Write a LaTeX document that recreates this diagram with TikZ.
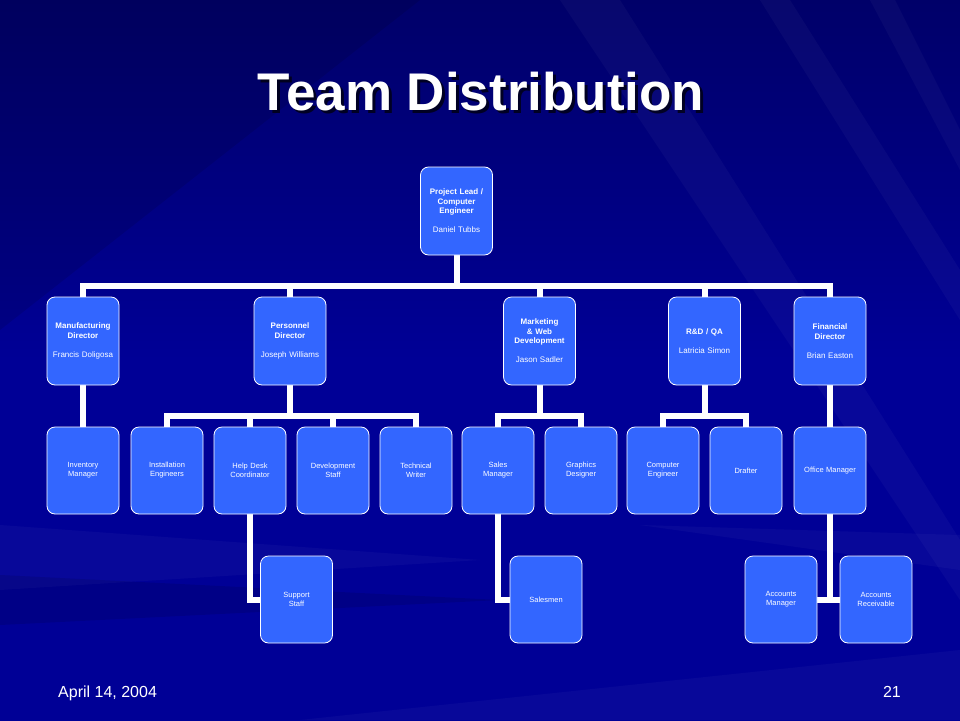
\documentclass[tikz,border=0pt]{standalone}
\usepackage{fontspec}
\setmainfont{Liberation Sans}
\pgfdeclarelayer{bg}
\pgfdeclarelayer{lines}
\pgfsetlayers{bg,lines,main}
\definecolor{boxblue}{RGB}{51,102,255}
\definecolor{bgdark}{RGB}{0,0,105}
\definecolor{bgmid}{RGB}{0,0,150}
\definecolor{bglight}{RGB}{15,25,185}
\begin{document}
\begin{tikzpicture}[x=1pt,y=-1pt,
  box/.style={draw=white, line width=0.8pt, fill=boxblue, rounded corners=8pt,
    minimum width=72pt, minimum height=87pt, inner sep=1pt, text width=70pt,
    align=center, text=white, font=\fontsize{7.5}{9}\selectfont},
  headbox/.style={box, minimum height=88pt, font=\fontsize{8}{9.5}\selectfont},
  link/.style={draw=white, line width=6pt, line join=miter},
  streak/.style={fill=white, opacity=0.03},
  darkstreak/.style={fill=black, opacity=0.1},
]
\useasboundingbox (0,0) rectangle (960,720);
\begin{pgfonlayer}{bg}
  \shade[top color=bgdark, bottom color=bgmid, middle color=bgmid] (0,0) rectangle (960,720);
  \fill[darkstreak] (0,0) -- (420,0) -- (0,330) -- cycle;
  \fill[streak] (560,0) -- (620,0) -- (960,540) -- (960,600) -- cycle;
  \fill[streak] (760,0) -- (790,0) -- (960,270) -- (960,320) -- cycle;
  \fill[streak] (870,0) -- (895,0) -- (960,130) -- (960,170) -- cycle;
  \fill[streak] (0,525) -- (480,560) -- (0,590) -- cycle;
  \fill[streak] (640,525) -- (960,535) -- (960,570) -- cycle;
  \fill[darkstreak] (0,575) -- (500,600) -- (0,625) -- cycle;
  \fill[streak] (300,720) -- (960,650) -- (960,720) -- cycle;
\end{pgfonlayer}

% title
\node[anchor=base, text=black, opacity=0.7, font=\fontsize{53}{60}\bfseries] (titleshadow) at (484,113) {Team Distribution};
\node[anchor=base, text=white, font=\fontsize{53}{60}\bfseries] (title) at (481,110) {Team Distribution};

% level 1
\node[headbox, minimum width=71pt] (top) at (456.5,211) {{\bfseries Project Lead /}\\{\bfseries Computer}\\{\bfseries Engineer}\\[9.5pt]Daniel Tubbs};

% level 2
\node[headbox] (mfg) at (83,341) {{\bfseries Manufacturing}\\{\bfseries Director}\\[9.5pt]Francis Doligosa};
\node[headbox] (pers) at (290,341) {{\bfseries Personnel}\\{\bfseries Director}\\[9.5pt]Joseph Williams};
\node[headbox] (mkt) at (539.5,341) {{\bfseries Marketing}\\{\bfseries \& Web}\\{\bfseries Development}\\[9.5pt]Jason Sadler};
\node[headbox] (rd) at (704.5,341) {{\bfseries R\&D / QA}\\[9.5pt]Latricia Simon};
\node[headbox] (fin) at (830,341) {{\bfseries Financial}\\{\bfseries Director}\\[9.5pt]Brian Easton};

% level 3
\node[box] (inv) at (83,470.5) {Inventory\\Manager};
\node[box] (inst) at (167,470.5) {Installation\\Engineers};
\node[box] (help) at (250,470.5) {Help Desk\\Coordinator};
\node[box] (dev) at (333,470.5) {Development\\Staff};
\node[box] (tech) at (416,470.5) {Technical\\Writer};
\node[box] (sales) at (498,470.5) {Sales\\Manager};
\node[box] (graph) at (581,470.5) {Graphics\\Designer};
\node[box] (comp) at (663,470.5) {Computer\\Engineer};
\node[box] (draft) at (746,470.5) {Drafter};
\node[box] (office) at (830,470.5) {Office Manager};

% level 4
\node[box] (support) at (296.5,599.5) {Support\\Staff};
\node[box] (salesmen) at (546,599.5) {Salesmen};
\node[box] (accm) at (781,599.5) {Accounts\\Manager};
\node[box] (accr) at (876,599.5) {Accounts\\Receivable};

% bus coordinates
\coordinate (bus1) at (456.5,286);
\coordinate (bus2) at (290,416);
\coordinate (bus3) at (539.5,416);
\coordinate (bus4) at (704.5,416);

\begin{pgfonlayer}{lines}
  \draw[link] (top) -- (bus1);
  \draw[link] (mfg.north) |- (bus1) -| (fin.north);
  \draw[link] (pers.north) -- (pers.north |- bus1);
  \draw[link] (mkt.north) -- (mkt.north |- bus1);
  \draw[link] (rd.north) -- (rd.north |- bus1);
  \draw[link] (mfg) -- (inv);

  \draw[link] (pers) -- (bus2);
  \draw[link] (inst.north) |- (bus2) -| (tech.north);
  \draw[link] (help.north) -- (help.north |- bus2);
  \draw[link] (dev.north) -- (dev.north |- bus2);

  \draw[link] (mkt) -- (bus3);
  \draw[link] (sales.north) |- (bus3) -| (graph.north);

  \draw[link] (rd) -- (bus4);
  \draw[link] (comp.north) |- (bus4) -| (draft.north);

  \draw[link] (fin) -- (office);

  \draw[link] (help.south) |- (support.west);
  \draw[link] (sales.south) |- (salesmen.west);
  \draw[link] (office.south) -- (office.south |- accm.east);
  \draw[link] (accm.east) -- (accr.west);
\end{pgfonlayer}

% footer
\node[anchor=base west, text=white, font=\fontsize{16}{18}\selectfont, inner sep=0pt] (date) at (58,697) {April 14, 2004};
\node[anchor=base east, text=white, font=\fontsize{16}{18}\selectfont, inner sep=0pt] (pagenum) at (901,697) {21};
\end{tikzpicture}
\end{document}
